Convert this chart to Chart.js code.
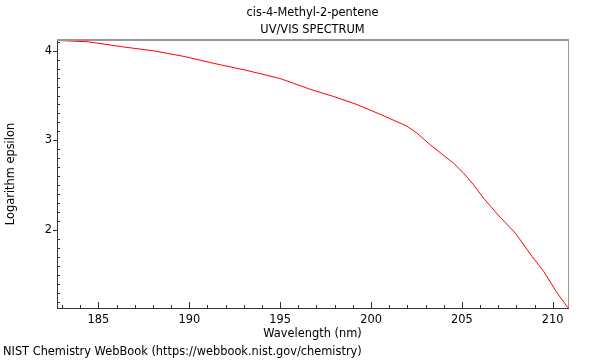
<!DOCTYPE html>
<html>
<head>
<meta charset="utf-8">
<script src="https://cdn.jsdelivr.net/npm/chart.js@4.4.0/dist/chart.umd.min.js"></script>
<style>
  html,body{margin:0;padding:0;background:#fff}
  #wrap{width:600px;height:360px}
</style>
</head>
<body>
<div id="wrap"><canvas id="chart" width="600" height="360"></canvas></div>
<script>
const titleLines = ['cis-4-Methyl-2-pentene', 'UV/VIS SPECTRUM']
const footerText = 'NIST Chemistry WebBook (https://webbook.nist.gov/chemistry)'
const xTitle = 'Wavelength (nm)'
const yTitle = 'Logarithm epsilon'

// spectrum
const wavelength = [182.72, 184.44, 186.28, 188.12, 189.77, 191.33, 193.17, 195.0, 196.65, 197.93,
  199.22, 200.51, 201.98, 202.53, 203.26, 204.54, 205.09, 205.64, 206.19, 207.11,
  207.94, 208.86, 209.5, 210.24, 210.84]
const logEps = [4.115, 4.10, 4.045, 3.997, 3.934, 3.86, 3.78, 3.69, 3.57, 3.49,
  3.40, 3.29, 3.158, 3.08, 2.95, 2.745, 2.634, 2.504, 2.355, 2.14,
  1.965, 1.704, 1.537, 1.296, 1.13]

const xTicks = [185, 190, 195, 200, 205, 210]
const yTicks = [2, 3, 4]
const xRange = [182.72, 210.84]
const yRange = [1.128, 4.12]

const FONT = 'DejaVu Sans'
const FSIZE = 11.4

// frame, minor ticks, title and footer
const frame = {
  id: 'frame',
  afterDraw(chart){
    const {ctx, chartArea: a, scales: {x, y}} = chart
    ctx.save()
    ctx.strokeStyle = '#999'
    ctx.lineWidth = 2
    ctx.beginPath(); ctx.moveTo(a.left, a.top); ctx.lineTo(a.right + 1, a.top); ctx.stroke()
    ctx.lineWidth = 1
    ctx.beginPath(); ctx.moveTo(a.right + 0.5, a.top); ctx.lineTo(a.right + 0.5, a.bottom); ctx.stroke()

    ctx.strokeStyle = '#333'
    ctx.beginPath()
    for(let v = Math.ceil(xRange[0]); v <= xRange[1]; v++){
      const px = Math.round(x.getPixelForValue(v)) + 0.5
      const len = v % 5 === 0 ? 6 : 3
      ctx.moveTo(px, a.bottom); ctx.lineTo(px, a.bottom - len)
    }
    for(let i = Math.ceil(yRange[0]*10); i <= yRange[1]*10; i++){
      const py = Math.round(y.getPixelForValue(i/10)) + 0.5
      if(i % 10 === 0){ ctx.moveTo(a.left - 4, py); ctx.lineTo(a.left, py) }
      else { ctx.moveTo(a.left, py); ctx.lineTo(a.left + 3, py) }
    }
    ctx.stroke()

    ctx.fillStyle = '#000'
    ctx.font = FSIZE + 'px ' + FONT
    ctx.textAlign = 'center'
    ctx.textBaseline = 'middle'
    const cx = (a.left + a.right) / 2
    ctx.fillText(titleLines[0], cx, 13)
    ctx.fillText(titleLines[1], cx, 30)
    ctx.textAlign = 'left'
    ctx.fillText(footerText, 3, 352)
    ctx.restore()
  }
}

new Chart(document.getElementById('chart'), {
  type: 'line',
  data: {
    datasets: [{
      data: wavelength.map((w, i) => ({x: w, y: logEps[i]})),
      borderColor: '#ff0000',
      borderWidth: 1,
      pointRadius: 0,
      tension: 0,
      fill: false
    }]
  },
  options: {
    responsive: false,
    animation: false,
    devicePixelRatio: 1,
    layout: {padding: {top: 40, right: 32, bottom: 19, left: 0}},
    plugins: {legend: {display: false}, tooltip: {enabled: false}},
    scales: {
      x: {
        type: 'linear', min: xRange[0], max: xRange[1],
        afterBuildTicks: s => { s.ticks = xTicks.map(v => ({value: v})) },
        afterFit: s => { s.height = 33 },
        grid: {display: false, drawTicks: false},
        border: {display: true, color: '#333', width: 1},
        ticks: {color: '#000', font: {family: FONT, size: FSIZE}, padding: 5, maxRotation: 0},
        title: {display: true, text: xTitle, color: '#000', font: {family: FONT, size: FSIZE}, padding: 0}
      },
      y: {
        type: 'linear', min: yRange[0], max: yRange[1],
        afterBuildTicks: s => { s.ticks = yTicks.map(v => ({value: v})) },
        afterFit: s => { s.width = 57 },
        grid: {display: false, drawTicks: false},
        border: {display: true, color: '#333', width: 1},
        ticks: {color: '#000', font: {family: FONT, size: FSIZE}, padding: 5},
        title: {display: true, text: yTitle, color: '#000', font: {family: FONT, size: FSIZE}, padding: {top: 4, bottom: 0}}
      }
    }
  },
  plugins: [frame]
})
</script>
</body>
</html>
